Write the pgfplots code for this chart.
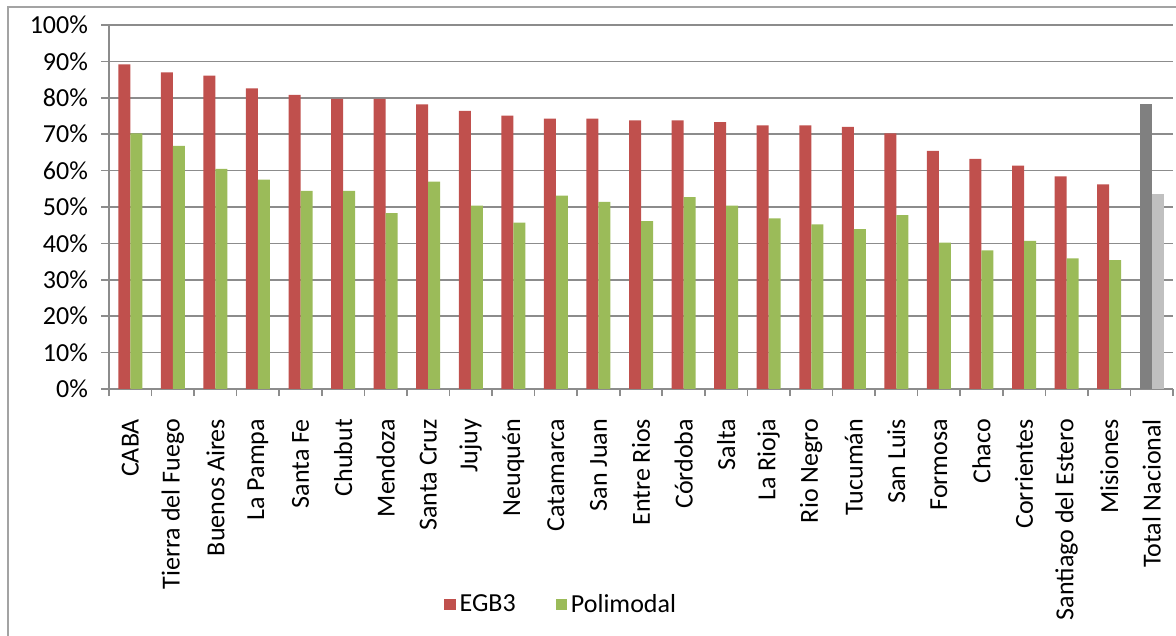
\documentclass[border=0pt]{standalone}
\usepackage{pgfplots}
\pgfplotsset{compat=1.18}
\usepackage{fontspec}
\setmainfont{Carlito}

\definecolor{egbred}{HTML}{C0504D}
\definecolor{poligreen}{HTML}{9BBB59}
\definecolor{totdark}{HTML}{808080}
\definecolor{totlight}{HTML}{C0C0C0}
\definecolor{gridgray}{HTML}{8C8C8C}

\begin{document}
\begin{tikzpicture}[font=\fontsize{13}{15}\selectfont]
  \useasboundingbox (0,0) rectangle (588pt,318pt);
  \draw[gridgray!80, line width=0.8pt] (4pt,-5pt) -- (4pt,314.5pt) -- (600pt,314.5pt);

  \begin{axis}[
    at={(54.5pt,123.5pt)}, anchor=south west,
    scale only axis, width=532pt, height=182pt,
    ybar, bar width=6pt,
    xmin=-0.5, xmax=24.5,
    ymin=0, ymax=100,
    axis x line*=bottom, axis y line*=left,
    axis line style={-, draw=gridgray, line width=0.8pt},
    xtick={0,...,24},
    xticklabels={CABA, Tierra del Fuego, Buenos Aires, La Pampa, Santa Fe,
      Chubut, Mendoza, Santa Cruz, Jujuy, Neuquén, Catamarca, San Juan,
      Entre Rios, Córdoba, Salta, La Rioja, Rio Negro, Tucumán, San Luis,
      Formosa, Chaco, Corrientes, Santiago del Estero, Misiones, Total Nacional},
    minor xtick={-0.5,0.5,...,24.5},
    major x tick style={draw=none},
    minor x tick style={draw=gridgray, line width=0.8pt},
    ytick={0,10,...,100},
    yticklabels={0\%,10\%,20\%,30\%,40\%,50\%,60\%,70\%,80\%,90\%,100\%},
    major y tick style={draw=gridgray, line width=0.8pt},
    tick align=outside,
    major tick length=4pt, minor tick length=3.5pt,
    ymajorgrids=true,
    major grid style={draw=gridgray, line width=0.8pt},
    xticklabel style={rotate=90, anchor=east, xshift=-7.5pt},
    yticklabel style={xshift=-3pt},
    legend style={at={(0.426,-0.593)}, anchor=center, draw=none,
      legend columns=2,
      /tikz/every even column/.append style={column sep=18pt}},
    legend image code/.code={\fill[#1] (0pt,-2.8pt) rectangle (5.6pt,2.8pt);},
    ]
    \addplot[fill=egbred, draw=none, bar shift=-3pt] coordinates {
      (0,89.2) (1,87.0) (2,86.1) (3,82.6) (4,80.8) (5,79.7) (6,79.7)
      (7,78.2) (8,76.4) (9,75.1) (10,74.3) (11,74.3) (12,73.8) (13,73.8)
      (14,73.3) (15,72.4) (16,72.4) (17,72.0) (18,70.2) (19,65.4)
      (20,63.2) (21,61.4) (22,58.4) (23,56.2)
    };
    \addplot[fill=poligreen, draw=none, bar shift=3pt] coordinates {
      (0,70.2) (1,66.8) (2,60.5) (3,57.5) (4,54.4) (5,54.4) (6,48.3)
      (7,57.0) (8,50.4) (9,45.7) (10,53.1) (11,51.4) (12,46.1) (13,52.7)
      (14,50.4) (15,46.9) (16,45.2) (17,43.9) (18,47.8) (19,40.2)
      (20,38.1) (21,40.7) (22,35.9) (23,35.4)
    };
    \addplot[fill=totdark, draw=none, bar shift=-3pt, forget plot] coordinates {(24,78.2)};
    \addplot[fill=totlight, draw=none, bar shift=3pt, forget plot] coordinates {(24,53.5)};
    \legend{EGB3, Polimodal}
  \end{axis}
\end{tikzpicture}
\end{document}
